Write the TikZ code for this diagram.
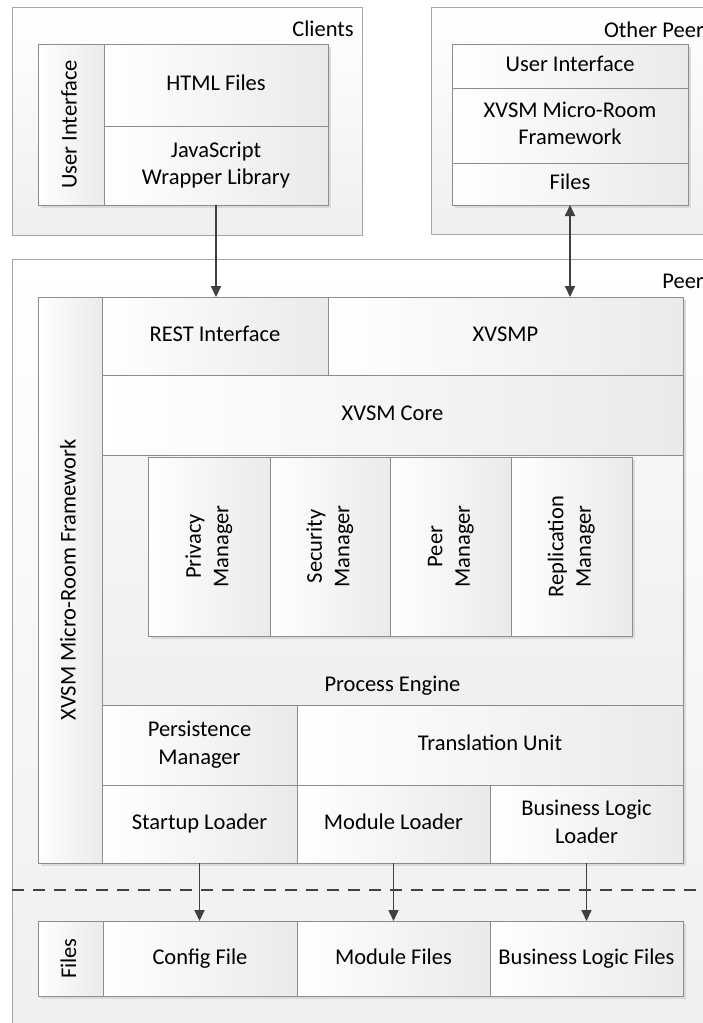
\documentclass[tikz,border=0pt]{standalone}
\usepackage{fontspec}
\setmainfont{Carlito}
\usetikzlibrary{arrows.meta}
\definecolor{bordc}{HTML}{8C8C8C}
\definecolor{outerc}{HTML}{A6A6A6}
\definecolor{arrc}{HTML}{404040}
\definecolor{shadc}{HTML}{DADADA}
\definecolor{cellg}{HTML}{EAEAEA}
\definecolor{bgg}{HTML}{EFEFEF}
\tikzset{
  txtfont/.style={font=\fontsize{22.5}{27.5}\selectfont},
  cell/.style={draw=bordc, line width=0.9pt, left color=white, right color=cellg,
    inner sep=2pt, outer sep=0pt, align=center, txtfont},
  pecell/.style={draw=bordc, line width=0.9pt, top color=white!60!cellg, bottom color=bgg,
    inner sep=0pt, outer sep=0pt},
  outerbox/.style={draw=outerc, line width=0.9pt, top color=white, bottom color=bgg},
  shadowbox/.style={fill=shadc, draw=none},
  lbl/.style={txtfont, inner sep=0pt, anchor=east},
  conn/.style={draw=arrc, line width=1.7pt, -{Triangle[length=11pt,width=10pt]}},
  connboth/.style={draw=arrc, line width=1.7pt,
    {Triangle[length=11pt,width=10pt]}-{Triangle[length=11pt,width=10pt]}},
  sepline/.style={draw=arrc, line width=2pt, dash pattern=on 12pt off 9pt},
}
\newcommand{\mycell}[7][]{\node[cell, minimum width={(#5-#3)*1pt}, minimum height={(#6-#4)*1pt}, #1] (#2) at ({(#3+#5)/2},{(#4+#6)/2}) {\strut #7\strut};}
\newcommand{\myvcell}[7][]{\node[cell, minimum width={(#5-#3)*1pt}, minimum height={(#6-#4)*1pt}, #1] (#2) at ({(#3+#5)/2},{(#4+#6)/2}) {\rotatebox{90}{\begin{tabular}{@{}c@{}}#7\end{tabular}}};}
\begin{document}
\begin{tikzpicture}[x=1pt,y=-1pt]
\useasboundingbox (0,0) rectangle (702,1023);
% outer boxes
\draw[outerbox] (12,7) rectangle (362,235);
\draw[outerbox] (431,7) rectangle (720,234);
\draw[outerbox] (12,259) rectangle (720,1040);
\node[lbl] (clientslbl) at (354,29) {Clients};
\node[lbl] (otherlbl) at (704,30) {Other Peer};
\node[lbl] (peerlbl) at (704,281) {Peer};
% shadows
\fill[shadowbox] (41,47) rectangle (331,208);
\fill[shadowbox] (455,47) rectangle (691,208);
\fill[shadowbox] (41,300) rectangle (686,866);
\fill[shadowbox] (41,924) rectangle (686,999);
% clients
\myvcell{cui}{38}{44}{104}{205}{User Interface}
\mycell{html}{104}{44}{328}{126}{HTML Files}
\mycell{js}{104}{126}{328}{205}{JavaScript\\Wrapper Library}
% other peer
\mycell{opui}{452}{44}{688}{88}{User Interface}
\mycell{opfw}{452}{88}{688}{163}{XVSM Micro-Room\\Framework}
\mycell{opfiles}{452}{163}{688}{205}{Files}
% peer framework
\myvcell{fw}{38}{297}{102}{863}{XVSM Micro-Room Framework}
\mycell{rest}{102}{297}{328}{375}{REST Interface}
\mycell{xvsmp}{328}{297}{683}{375}{XVSMP}
\mycell{core}{102}{375}{683}{455}{XVSM Core}
\node[pecell, minimum width=581pt, minimum height=250pt] (pe) at (392.5,580) {};
\fill[shadowbox] (151,460) rectangle (635,639);
\myvcell{privacy}{148}{457}{270}{636}{Privacy\\Manager}
\myvcell{security}{270}{457}{390}{636}{Security\\Manager}
\myvcell{peermgr}{390}{457}{511}{636}{Peer\\Manager}
\myvcell{repl}{511}{457}{632}{636}{Replication\\Manager}
\node[txtfont, inner sep=0pt] (pelbl) at (392.5,686) {\strut Process Engine};
\mycell{persist}{102}{705}{297}{785}{Persistence\\Manager}
\mycell{transl}{297}{705}{683}{785}{Translation Unit}
\mycell{startup}{102}{785}{297}{863}{Startup Loader}
\mycell{modload}{297}{785}{490}{863}{Module Loader}
\mycell{blload}{490}{785}{683}{863}{Business Logic\\Loader}
% separator
\coordinate (dl) at (12,890);
\coordinate (dr) at (702,890);
\draw[sepline] (dl) -- (dr);
% files
\myvcell{filescol}{38}{921}{103}{996}{Files}
\mycell{config}{103}{921}{297}{996}{Config File}
\mycell{modfiles}{297}{921}{490}{996}{Module Files}
\mycell{blfiles}{490}{921}{683}{996}{Business Logic Files}
% connectors
\draw[conn] (js.south) -- (js.south |- rest.north);
\draw[connboth] (opfiles.south) -- (opfiles.south |- xvsmp.north);
\draw[conn] (startup.south) -- (startup.south |- config.north);
\draw[conn] (modload.south) -- (modload.south |- modfiles.north);
\draw[conn] (blload.south) -- (blload.south |- blfiles.north);
\end{tikzpicture}
\end{document}
